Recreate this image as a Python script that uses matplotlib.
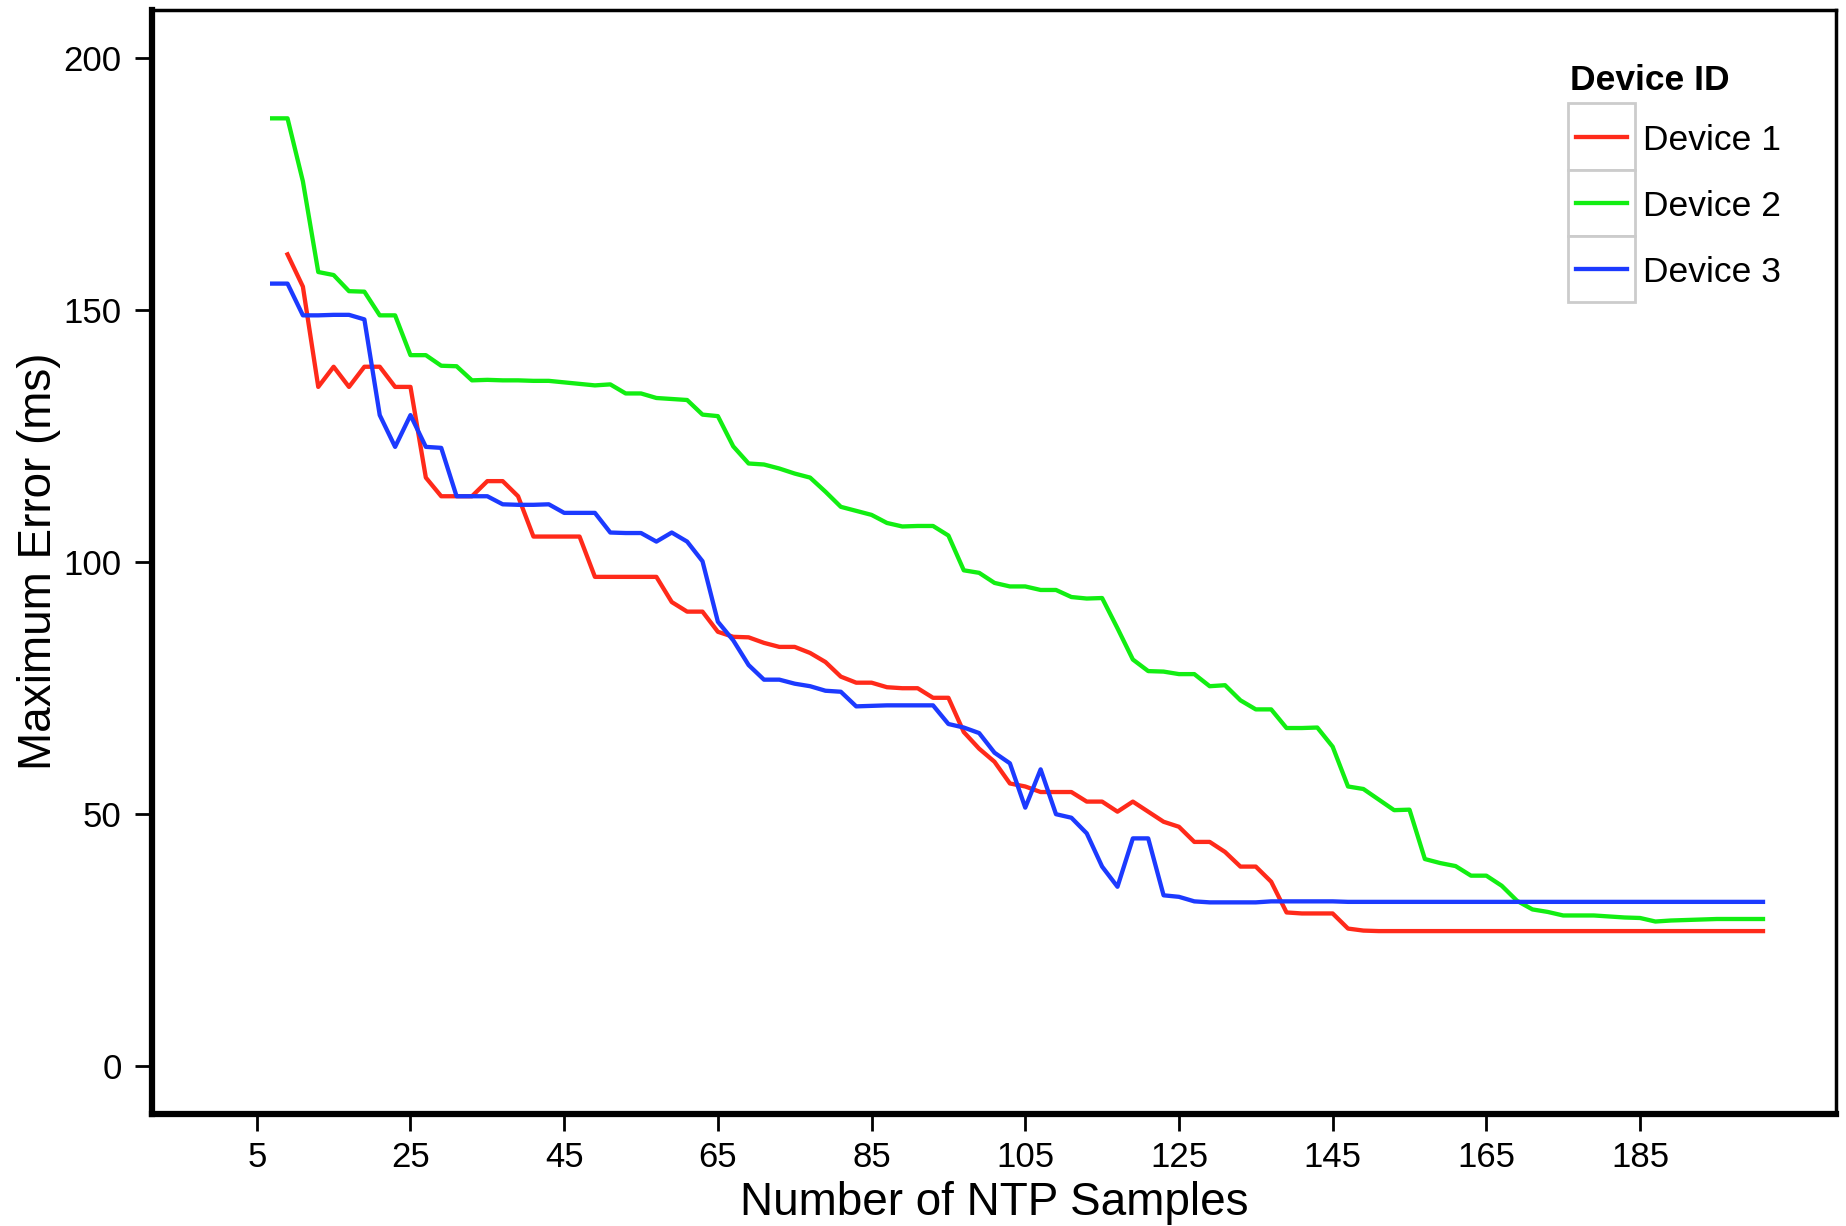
import matplotlib
matplotlib.use("Agg")
import matplotlib.pyplot as plt
from matplotlib.lines import Line2D
from matplotlib.patches import Rectangle
import numpy as np

plt.rcParams['font.family'] = ['Liberation Sans', 'DejaVu Sans']

# Data: maximum error (ms) against number of NTP samples
samples = np.arange(7, 202, 2)

device1 = [np.nan, 161.0, 154.6, 134.7, 138.7, 134.7, 138.7, 138.7, 134.7, 134.7,
           116.7, 113.0, 113.0, 113.0, 116.0, 116.0, 113.0, 105.0, 105.0, 105.0,
           105.0, 97.0, 97.0, 97.0, 97.0, 97.0, 92.0, 90.1, 90.1, 86.1,
           85.1, 85.0, 83.9, 83.1, 83.1, 81.9, 80.1, 77.2, 76.0, 76.0,
           75.1, 74.9, 74.9, 73.0, 73.0, 66.2, 62.9, 60.3, 56.0, 55.4,
           54.3, 54.3, 54.3, 52.4, 52.4, 50.4, 52.4, 50.4, 48.4, 47.4,
           44.4, 44.4, 42.4, 39.5, 39.5, 36.5, 30.4, 30.2, 30.2, 30.2,
           27.2, 26.8] + [26.7] * 26

device2 = [188.0, 188.0, 175.5, 157.5, 156.9, 153.7, 153.6, 148.9, 148.9, 141.0,
           141.0, 138.9, 138.8, 136.0, 136.1, 136.0, 136.0, 135.9, 135.9, 135.6,
           135.3, 135.0, 135.2, 133.4, 133.4, 132.5, 132.3, 132.1, 129.2, 128.9,
           122.9, 119.5, 119.3, 118.5, 117.5, 116.7, 113.9, 110.9, 110.1, 109.3,
           107.7, 107.0, 107.1, 107.1, 105.2, 98.3, 97.8, 95.8, 95.1, 95.1,
           94.4, 94.4, 93.0, 92.7, 92.8, 86.8, 80.6, 78.3, 78.2, 77.7,
           77.7, 75.3, 75.5, 72.5, 70.7, 70.7, 67.0, 67.0, 67.1, 63.3,
           55.4, 54.9, 52.8, 50.7, 50.8, 41.0, 40.2, 39.6, 37.7, 37.7,
           35.7, 32.7, 31.0, 30.5, 29.8, 29.8, 29.8, 29.6, 29.4, 29.3,
           28.6, 28.8, 28.9, 29.0, 29.1, 29.1, 29.1, 29.1]

device3 = [155.2, 155.2, 148.9, 148.9, 149.0, 149.0, 148.1, 129.1, 122.8, 129.1,
           122.8, 122.6, 113.0, 113.0, 113.0, 111.4, 111.3, 111.3, 111.4, 109.7,
           109.7, 109.7, 105.8, 105.7, 105.7, 104.0, 105.8, 104.0, 100.1, 88.1,
           84.4, 79.5, 76.6, 76.6, 75.8, 75.3, 74.4, 74.2, 71.3, 71.4,
           71.5, 71.5, 71.5, 71.5, 67.8, 67.1, 66.0, 62.1, 60.0, 51.2,
           58.8, 49.9, 49.2, 46.1, 39.5, 35.5, 45.1, 45.1, 33.8, 33.5,
           32.6, 32.4, 32.4, 32.4, 32.4, 32.6, 32.6, 32.6, 32.6, 32.6] + [32.5] * 28

names = ['Device 1', 'Device 2', 'Device 3']
colors = ['#ff2a1a', '#12ee12', '#1c3aff']
series = [device1, device2, device3]

xticks = np.arange(5, 186, 20)
yticks = [0, 50, 100, 150, 200]

W, H = 1846, 1226
fig = plt.figure(figsize=(W / 100, H / 100), dpi=100)
left, right, top, bottom = 151.5, 1836, 10, 1113.5
ax = fig.add_axes([left / W, 1 - bottom / H, (right - left) / W, (bottom - top) / H])

for vals, c, n in zip(series, colors, names):
    ax.plot(samples, vals, color=c, lw=3.1, label=n)

ax.set_xlim(-8.7, 210.5)
ax.set_ylim(-9.5, 209.5)
ax.set_xticks(xticks)
ax.set_yticks(yticks)
ax.tick_params(direction='out', length=12.5, width=2, labelsize=25, colors='black')
ax.tick_params(axis='x', pad=7.5)
ax.tick_params(axis='y', pad=9)

for s in ['left', 'bottom']:
    ax.spines[s].set_linewidth(4.5)
for s in ['top', 'right']:
    ax.spines[s].set_linewidth(2.5)

ax.set_xlabel('Number of NTP Samples', fontsize=33, labelpad=5)
ax.set_ylabel('Maximum Error (ms)', fontsize=33, labelpad=2)


def px(x, y):
    return x / W, 1 - y / H


# legend drawn in ggplot style: a grey box around each key
fig.text(*px(1570, 80), 'Device ID', fontsize=25.5, fontweight='bold', va='center', ha='left')
box_top = 103.5
box_h = 66
for i, (n, c) in enumerate(zip(names, colors)):
    y0 = box_top + i * box_h
    bx, by = px(1568, y0 + box_h)
    fig.add_artist(Rectangle((bx, by), 67 / W, box_h / H, transform=fig.transFigure,
                             facecolor='white', edgecolor='#cccccc', lw=2))
    yc = y0 + box_h / 2
    x1, yy = px(1576, yc)
    x2, _ = px(1627, yc)
    fig.add_artist(Line2D([x1, x2], [yy, yy], transform=fig.transFigure, color=c, lw=3.1))
    fig.text(*px(1643, yc + 4.5), n, fontsize=25.5, va='center', ha='left')

fig.savefig('out.png', dpi=100)
